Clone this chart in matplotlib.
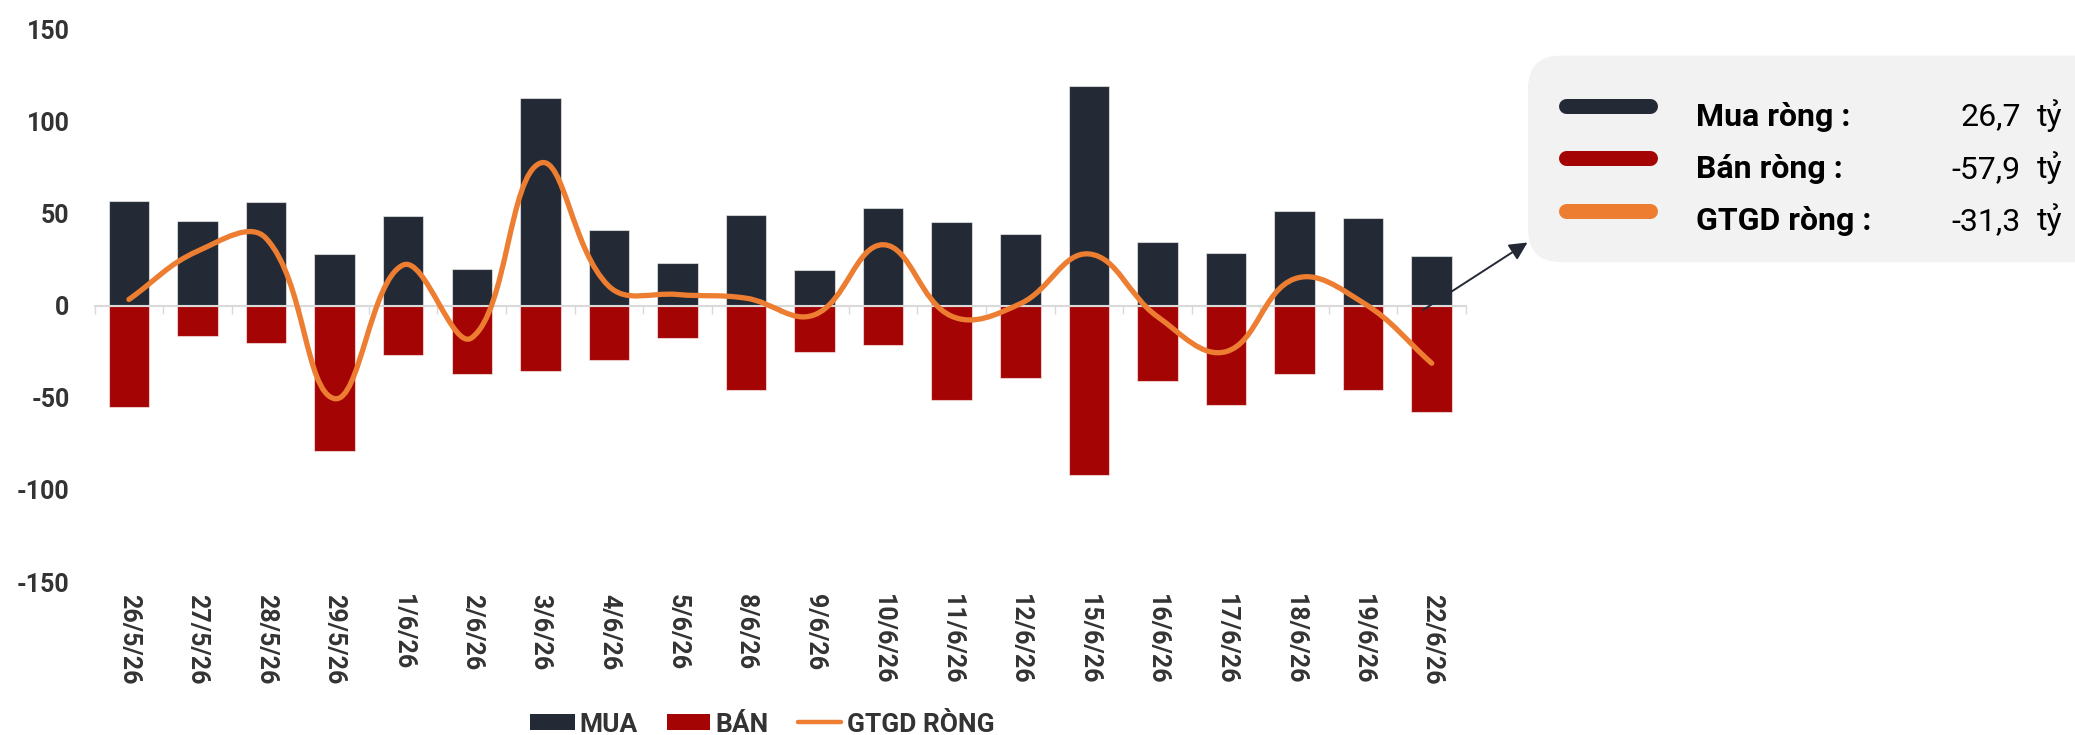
import matplotlib
matplotlib.use('Agg')
import matplotlib.pyplot as plt
import numpy as np
from matplotlib.path import Path
from matplotlib.patches import PathPatch, FancyBboxPatch, Rectangle

plt.rcParams['font.family'] = ['Roboto', 'DejaVu Sans']
plt.rcParams['axes.unicode_minus'] = False

# ---------------- data ----------------
dates = ['26/5/26', '27/5/26', '28/5/26', '29/5/26', '1/6/26', '2/6/26', '3/6/26',
         '4/6/26', '5/6/26', '8/6/26', '9/6/26', '10/6/26', '11/6/26', '12/6/26',
         '15/6/26', '16/6/26', '17/6/26', '18/6/26', '19/6/26', '22/6/26']
mua = [56.9, 45.7, 56.0, 27.8, 48.5, 20.1, 112.7, 40.9, 23.0, 49.3,
       19.2, 53.0, 45.6, 39.0, 119.3, 34.3, 28.6, 51.4, 47.5, 26.7]
ban = [-55.2, -16.6, -20.3, -78.9, -26.9, -37.3, -35.4, -29.7, -17.4, -45.8,
       -25.0, -21.2, -51.4, -39.1, -92.0, -40.9, -54.2, -37.3, -45.8, -57.9]
net = [3.3, 29.5, 36.5, -50.5, 22.0, -17.5, 77.3, 10.5, 6.0, 4.0,
       -5.0, 33.0, -5.8, 1.0, 28.0, -6.0, -25.0, 14.5, 1.5, -31.3]
yticks = [-150, -100, -50, 0, 50, 100, 150]
ytick_labels = ['-150', '-100', '-50', '0', '50', '100', '150']
legend_names = ['MUA', 'BÁN', 'GTGD RÒNG']
box_names = ['Mua ròng :', 'Bán ròng :', 'GTGD ròng :']
unit = 'tỷ'

C_MUA = '#232a35'
C_BAN = '#a50404'
C_NET = '#ed7d31'
C_TXT = '#333333'
C_AXIS = '#d9d9d9'

W, H = 2075, 735
fig = plt.figure(figsize=(W / 100, H / 100), dpi=100)

ax_l, ax_r, ax_t, ax_b = 94.6, 1466.0, 29.1, 582.0
ax = fig.add_axes([ax_l / W, 1 - ax_b / H, (ax_r - ax_l) / W, (ax_b - ax_t) / H])
ax.set_xlim(-0.5, len(dates) - 0.5)
ax.set_ylim(-150, 150)
ax.patch.set_alpha(0)

x = np.arange(len(dates))
ax.bar(x, mua, width=0.59, color=C_MUA, edgecolor=(1, 1, 1, 0.55), linewidth=0.8, zorder=2)
ax.bar(x, ban, width=0.59, color=C_BAN, edgecolor=(1, 1, 1, 0.55), linewidth=0.8, zorder=2)


def spline_path(ax, xs, ys, t=0.4):
    pts = ax.transData.transform(np.column_stack([xs, ys]))
    n = len(pts)
    cp_prev, cp_next = [], []
    for i in range(n):
        cur = pts[i]
        prev = pts[i - 1] if i > 0 else cur
        nxt = pts[i + 1] if i < n - 1 else cur
        d01 = np.hypot(*(cur - prev))
        d12 = np.hypot(*(nxt - cur))
        tot = d01 + d12
        s01 = d01 / tot if tot else 0
        s12 = d12 / tot if tot else 0
        cp_prev.append(cur - t * s01 * (nxt - prev))
        cp_next.append(cur + t * s12 * (nxt - prev))
    verts = [pts[0]]
    codes = [Path.MOVETO]
    for i in range(1, n):
        verts += [cp_next[i - 1], cp_prev[i], pts[i]]
        codes += [Path.CURVE4] * 3
    verts = ax.transData.inverted().transform(np.array(verts))
    return Path(verts, codes)


ax.add_patch(PathPatch(spline_path(ax, x, net), facecolor='none', edgecolor=C_NET,
                       lw=3.8, capstyle='round', joinstyle='round', zorder=4))

# axes styling
for s in ['top', 'right', 'left']:
    ax.spines[s].set_visible(False)
ax.spines['bottom'].set_position(('data', 0))
ax.spines['bottom'].set_color(C_AXIS)
ax.spines['bottom'].set_linewidth(1.5)
ax.spines['bottom'].set_zorder(3)
ax.set_xticks(x)
ax.set_xticklabels([])
ax.set_xticks(np.arange(-0.5, len(dates), 1.0), minor=True)
ax.tick_params(axis='x', which='major', length=0)
ax.tick_params(axis='x', which='minor', length=5.5, width=1.0, color=C_AXIS, direction='out')
ax.set_yticks(yticks)
ax.set_yticklabels(ytick_labels)
ax.tick_params(axis='y', length=0, pad=18, labelsize=18, labelcolor=C_TXT)
for lbl in ax.get_yticklabels():
    lbl.set_fontweight('bold')

sec = ax.secondary_xaxis('bottom')
sec.set_xticks(x, labels=dates)
sec.spines['bottom'].set_visible(False)
sec.tick_params(axis='x', length=0, pad=9, labelsize=18, labelcolor=C_TXT, labelrotation=-90)
for lbl in sec.get_xticklabels():
    lbl.set_fontweight('bold')
    lbl.set_ha('center')
    lbl.set_va('top')

# ---------------- overlay (pixel coordinates) ----------------
ov = fig.add_axes([0, 0, 1, 1], zorder=5)
ov.set_xlim(0, W)
ov.set_ylim(H, 0)
ov.axis('off')

# info box
ov.add_patch(FancyBboxPatch((1528, 55.6), 620, 206.5,
                            boxstyle='round,pad=0,rounding_size=33',
                            facecolor='#f2f2f2', edgecolor='none', clip_on=False))
last_vals = [mua[-1], ban[-1], net[-1]]
for i, (name, col, val) in enumerate(zip(box_names, [C_MUA, C_BAN, C_NET], last_vals)):
    yc = 106 + i * 52.3
    yb = 125.5 + i * 52.3
    ov.plot([1566, 1650], [yc, yc], color=col, lw=10.8, solid_capstyle='round')
    ov.text(1696, yb, name, fontsize=23, fontweight='bold', color='black', va='baseline', ha='left')
    ov.text(2021, yb, f'{val:.1f}'.replace('.', ','), fontsize=23, color='black',
            va='baseline', ha='right')
    ov.text(2037, yb, unit, fontsize=23, color='black', va='baseline', ha='left')

# arrow from last bar to box
ov.annotate('', xy=(1527.5, 242.5), xytext=(1423, 310),
            arrowprops=dict(arrowstyle='-|>,head_length=0.4,head_width=0.2',
                            color=C_MUA, lw=1.4, mutation_scale=27,
                            shrinkA=0, shrinkB=0))

# bottom legend
ov.add_patch(Rectangle((530, 714), 45, 16, facecolor=C_MUA, edgecolor='none'))
ov.text(579, 732.3, legend_names[0], fontsize=19, fontweight='bold', color=C_TXT, va='baseline')
ov.add_patch(Rectangle((666.7, 714), 43.3, 16, facecolor=C_BAN, edgecolor='none'))
ov.text(715, 732.3, legend_names[1], fontsize=19, fontweight='bold', color=C_TXT, va='baseline')
ov.plot([798, 841], [721.7, 721.7], color=C_NET, lw=3.2, solid_capstyle='round')
ov.text(846.7, 732.3, legend_names[2], fontsize=19, fontweight='bold', color=C_TXT, va='baseline')

fig.savefig('out.png', dpi=100)
